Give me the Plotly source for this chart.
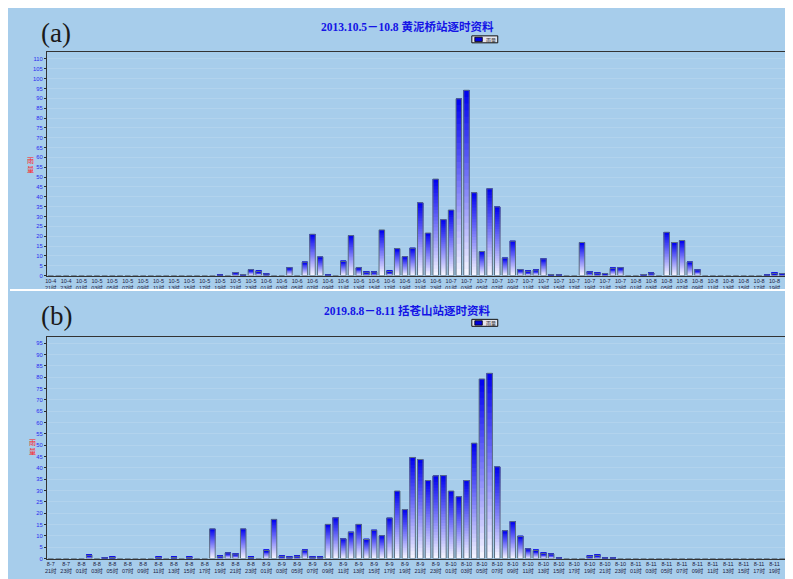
import plotly.graph_objects as go

# the page body keeps an 8px margin, so the figure fills the rest of the window
PAGE_W, PAGE_H = 793, 579
OFF = 8
W, H = PAGE_W - OFF, PAGE_H - OFF

# ---------------- data ----------------
title_a = "2013.10.5－10.8 黄泥桥站逐时资料"
title_b = "2019.8.8－8.11 括苍山站逐时资料"
series_name = "雨量"

tick_labels_a = [
    "10-4 21时", "10-4 23时",
    "10-5 01时", "10-5 03时", "10-5 05时", "10-5 07时", "10-5 09时", "10-5 11时",
    "10-5 13时", "10-5 15时", "10-5 17时", "10-5 19时", "10-5 21时", "10-5 23时",
    "10-6 01时", "10-6 03时", "10-6 05时", "10-6 07时", "10-6 09时", "10-6 11时",
    "10-6 13时", "10-6 15时", "10-6 17时", "10-6 19时", "10-6 21时", "10-6 23时",
    "10-7 01时", "10-7 03时", "10-7 05时", "10-7 07时", "10-7 09时", "10-7 11时",
    "10-7 13时", "10-7 15时", "10-7 17时", "10-7 19时", "10-7 21时", "10-7 23时",
    "10-8 01时", "10-8 03时", "10-8 05时", "10-8 07时", "10-8 09时", "10-8 11时",
    "10-8 13时", "10-8 15时", "10-8 17时", "10-8 19时",
]
tick_labels_b = [
    "8-7 21时", "8-7 23时",
    "8-8 01时", "8-8 03时", "8-8 05时", "8-8 07时", "8-8 09时", "8-8 11时",
    "8-8 13时", "8-8 15时", "8-8 17时", "8-8 19时", "8-8 21时", "8-8 23时",
    "8-9 01时", "8-9 03时", "8-9 05时", "8-9 07时", "8-9 09时", "8-9 11时",
    "8-9 13时", "8-9 15时", "8-9 17时", "8-9 19时", "8-9 21时", "8-9 23时",
    "8-10 01时", "8-10 03时", "8-10 05时", "8-10 07时", "8-10 09时", "8-10 11时",
    "8-10 13时", "8-10 15时", "8-10 17时", "8-10 19时", "8-10 21时", "8-10 23时",
    "8-11 01时", "8-11 03时", "8-11 05时", "8-11 07时", "8-11 09时", "8-11 11时",
    "8-11 13时", "8-11 15时", "8-11 17时", "8-11 19时",
]

# hourly rainfall, 10-4 21时 .. 10-8 20时
rain_a = [
    0, 0, 0, 0, 0, 0, 0, 0, 0, 0,
    0, 0, 0, 0, 0, 0, 0, 0, 0, 0,
    0, 0, 0.3, 0, 1.5, 0.5, 3.0, 2.1, 0.8, 0,
    0, 4.0, 0, 6.8, 21.0, 9.5, 0.3, 0, 7.2, 20.3,
    4.0, 1.7, 1.8, 23.2, 2.1, 13.7, 9.6, 13.9, 37.0, 21.6,
    49.0, 28.4, 33.3, 89.8, 94.1, 42.1, 12.2, 44.1, 34.9, 8.9,
    17.5, 3.0, 2.2, 2.8, 8.5, 0.5, 0.4, 0, 0, 16.8,
    1.8, 1.2, 1.0, 3.7, 4.0, 0, 0, 0.5, 1.3, 0,
    22.0, 16.8, 17.8, 6.9, 2.9, 0, 0, 0, 0, 0,
    0, 0, 0, 0.3, 1.1, 1.0,
]
# hourly rainfall, 8-7 21时 .. 8-11 20时
rain_b = [
    0, 0, 0, 0, 0, 1.4, 0, 0.3, 0.5, 0,
    0, 0, 0, 0, 0.5, 0, 0.5, 0, 0.5, 0,
    0, 13.1, 1.0, 2.5, 2.0, 13.1, 0.5, 0, 3.6, 17.3,
    1.0, 0.6, 1.0, 3.7, 0.6, 0.6, 15.1, 18.0, 8.7, 11.6,
    15.1, 8.4, 12.5, 10.1, 17.9, 29.8, 21.6, 44.6, 43.7, 34.4,
    36.5, 36.6, 29.8, 27.3, 34.4, 50.9, 79.2, 81.7, 40.5, 12.3,
    16.3, 9.8, 4.3, 3.6, 2.3, 2.0, 0.3, 0, 0, 0,
    1.0, 1.4, 0.3, 0.3, 0, 0, 0, 0, 0, 0,
    0, 0, 0, 0, 0, 0, 0, 0, 0, 0,
    0, 0, 0, 0, 0, 0,
]

ymax_a = 113.3
ymax_b = 97.9

# ---------------- styling ----------------
BG = "#a7cdeb"
TOP_RGB = (0, 0, 240)
BOT_RGB = (248, 248, 255)
BAR_W = 0.72
NSEG = 28


def px_x(x):
    """page pixel x -> paper fraction"""
    return (x - OFF) / W


def px_y(y):
    """page pixel y -> paper fraction"""
    return 1 - (y - OFF) / H


def hourly(tick_labels):
    cats = []
    for lbl in tick_labels:
        day, hr = lbl.split(" ")
        h = int(hr.replace("时", ""))
        cats.append(lbl)
        nh = (h + 1) % 24
        cats.append(f"{day} {nh:02d}时#")
    return cats


fig = go.Figure()


def add_panel(cats, vals, xa, ya):
    for k in range(NSEG):
        t = (k + 0.5) / NSEG
        r = round(BOT_RGB[0] + (TOP_RGB[0] - BOT_RGB[0]) * t)
        g = round(BOT_RGB[1] + (TOP_RGB[1] - BOT_RGB[1]) * t)
        b = round(BOT_RGB[2] + (TOP_RGB[2] - BOT_RGB[2]) * t)
        fig.add_trace(go.Bar(
            x=cats,
            y=[v * (NSEG - k) / NSEG for v in vals],
            base=[v * k / NSEG for v in vals],
            width=BAR_W,
            marker=dict(color=f"rgb({r},{g},{b})", line=dict(width=0)),
            xaxis=xa, yaxis=ya, showlegend=False, hoverinfo="skip",
        ))
    fig.add_trace(go.Bar(
        x=cats, y=vals, width=BAR_W, name=series_name,
        marker=dict(color="rgba(0,0,0,0)", line=dict(color="#5b6f80", width=1)),
        xaxis=xa, yaxis=ya, showlegend=False,
    ))


cats_a = hourly(tick_labels_a)
cats_b = hourly(tick_labels_b)
add_panel(cats_a, rain_a, "x", "y")
add_panel(cats_b, rain_b, "x2", "y2")

xfont = dict(family="Liberation Sans, Noto Sans CJK SC", size=5.5, color="#1c2040")
yfont = dict(family="Liberation Sans", size=5.8, color="#2a2af0")


def xaxis_cfg(cats, labels, anchor):
    return dict(
        domain=[px_x(45), px_x(786)], anchor=anchor, type="category",
        categoryorder="array", categoryarray=cats,
        range=[-0.5, len(cats) - 0.5],
        tickmode="array", tickvals=cats[::2],
        ticktext=[l.replace(" ", "<br>") for l in labels],
        tickangle=0, tickfont=xfont, showgrid=False,
        showline=True, linecolor="#333333", linewidth=1.2, mirror=True,
        ticks="", fixedrange=True,
    )


def yaxis_cfg(top, bottom, ymax, anchor):
    return dict(
        domain=[px_y(bottom), px_y(top)], anchor=anchor,
        range=[0, ymax], dtick=5, tick0=0, tickfont=yfont,
        showgrid=True, gridcolor="rgba(255,255,255,0.13)", gridwidth=1,
        zeroline=False, showline=True, linecolor="#333333", linewidth=1.2,
        mirror=True, ticks="outside", ticklen=2, tickcolor="#2a2a2a",
    )


titlefont = dict(family="Liberation Serif, Noto Sans CJK SC", size=11.5, color="#1414e6")
labfont = dict(family="Liberation Serif, DejaVu Serif", size=27, color="#1a1a1a")
ytitlefont = dict(family="Noto Sans CJK SC", size=7, color="#ff2020")

annotations = []
shapes = []

for off, ttl, tag in [(0, title_a, "(a)"), (285, title_b, "(b)")]:
    annotations.append(dict(text=f"<b>{ttl}</b>", x=px_x(407), y=px_y(27 + off),
                            xref="paper", yref="paper", showarrow=False,
                            xanchor="center", yanchor="middle", font=titlefont))
    annotations.append(dict(text=tag, x=px_x(37), y=px_y(33 + off),
                            xref="paper", yref="paper", showarrow=False,
                            xanchor="left", yanchor="middle", font=labfont))
    # legend box
    shapes.append(dict(type="rect", xref="paper", yref="paper",
                       x0=px_x(471), x1=px_x(497), y0=px_y(43 + off), y1=px_y(36 + off),
                       fillcolor="#e4e4ec", line=dict(color="#111111", width=1)))
    shapes.append(dict(type="rect", xref="paper", yref="paper",
                       x0=px_x(474), x1=px_x(481.5), y0=px_y(41.8 + off), y1=px_y(37.4 + off),
                       fillcolor="#0000e0", line=dict(color="#000000", width=0.8)))
    annotations.append(dict(text=series_name, x=px_x(483), y=px_y(39.7 + off),
                            xref="paper", yref="paper", showarrow=False,
                            xanchor="left", yanchor="middle",
                            font=dict(family="Noto Sans CJK SC", size=5, color="#333333")))

annotations.append(dict(text="雨<br>量", x=px_x(29), y=px_y(165), xref="paper", yref="paper",
                        showarrow=False, xanchor="center", yanchor="middle", font=ytitlefont))
annotations.append(dict(text="雨<br>量", x=px_x(31), y=px_y(449), xref="paper", yref="paper",
                        showarrow=False, xanchor="center", yanchor="middle", font=ytitlefont))

# white separator between the two panels
shapes.append(dict(type="rect", xref="paper", yref="paper", x0=0, x1=1,
                   y0=px_y(292.5), y1=px_y(290.5),
                   fillcolor="white", line=dict(width=0), layer="above"))

fig.update_layout(
    width=W, height=H, margin=dict(l=0, r=0, t=0, b=0),
    paper_bgcolor=BG, plot_bgcolor=BG,
    barmode="overlay", showlegend=False,
    xaxis=xaxis_cfg(cats_a, tick_labels_a, "y"),
    yaxis=yaxis_cfg(52.7, 277, ymax_a, "x"),
    xaxis2=xaxis_cfg(cats_b, tick_labels_b, "y2"),
    yaxis2=yaxis_cfg(338.3, 561.5, ymax_b, "x2"),
    annotations=annotations, shapes=shapes,
)

fig.write_html("out.html")
